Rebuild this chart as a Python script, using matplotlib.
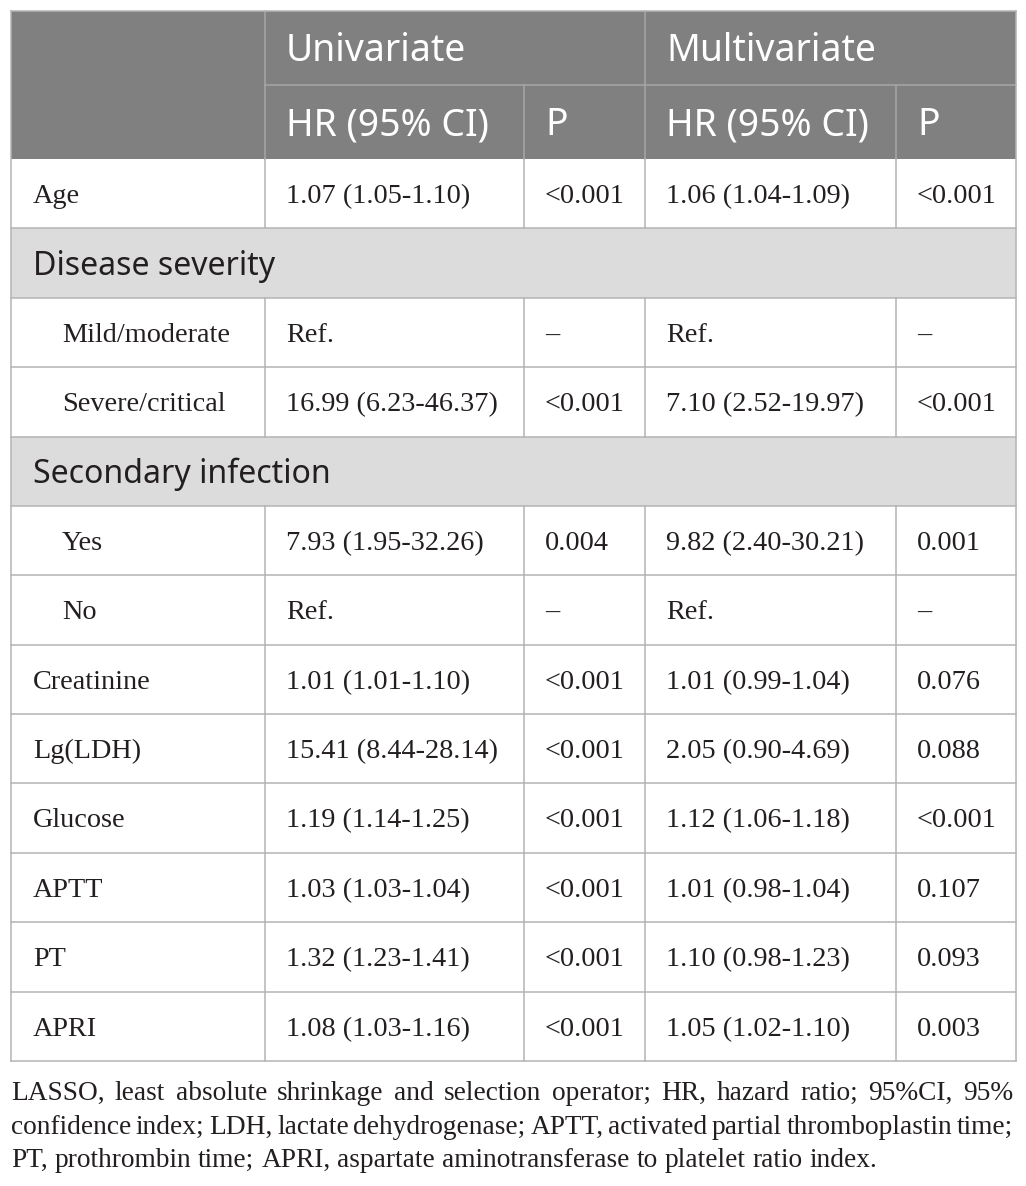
import matplotlib
matplotlib.use("Agg")
import matplotlib.pyplot as plt
from matplotlib.patches import Rectangle

# ---- table content ----
group_headers = ["Univariate", "Multivariate"]
sub_headers = ["HR (95% CI)", "P", "HR (95% CI)", "P"]

row_labels = ["Age", "Disease severity", "Mild/moderate", "Severe/critical",
              "Secondary infection", "Yes", "No", "Creatinine", "Lg(LDH)",
              "Glucose", "APTT", "PT", "APRI"]
section_rows = ["Disease severity", "Secondary infection"]
indented_rows = ["Mild/moderate", "Severe/critical", "Yes", "No"]

uni_hr = ["1.07 (1.05-1.10)", None, "Ref.", "16.99 (6.23-46.37)", None,
          "7.93 (1.95-32.26)", "Ref.", "1.01 (1.01-1.10)", "15.41 (8.44-28.14)",
          "1.19 (1.14-1.25)", "1.03 (1.03-1.04)", "1.32 (1.23-1.41)", "1.08 (1.03-1.16)"]
uni_p = ["<0.001", None, "\u2013", "<0.001", None, "0.004", "\u2013",
         "<0.001", "<0.001", "<0.001", "<0.001", "<0.001", "<0.001"]
multi_hr = ["1.06 (1.04-1.09)", None, "Ref.", "7.10 (2.52-19.97)", None,
            "9.82 (2.40-30.21)", "Ref.", "1.01 (0.99-1.04)", "2.05 (0.90-4.69)",
            "1.12 (1.06-1.18)", "1.01 (0.98-1.04)", "1.10 (0.98-1.23)", "1.05 (1.02-1.10)"]
multi_p = ["<0.001", None, "\u2013", "<0.001", None, "0.001", "\u2013",
           "0.076", "0.088", "<0.001", "0.107", "0.093", "0.003"]

footnote_lines = [
    "LASSO, least absolute shrinkage and selection operator; HR, hazard ratio; 95%CI, 95%",
    "confidence index; LDH, lactate dehydrogenase; APTT, activated partial thromboplastin time;",
    "PT, prothrombin time; APRI, aspartate aminotransferase to platelet ratio index.",
]

# ---- layout (pixels) ----
W, H = 1026, 1186
col_x = [11, 265, 524, 645, 896, 1016]
top, head_mid, head_bot, tab_bot = 11, 85, 159, 1061
pad = 21
head_bg = "#808080"
sect_bg = "#dcdcdc"
grid_c = "#b4b4b4"
head_line = "#a6a6a6"
text_c = "#231f20"
serif = ["Liberation Serif", "DejaVu Serif"]
sans = ["Noto Sans", "DejaVu Sans"]
lw = 1.1

fig = plt.figure(figsize=(W / 100, H / 100), dpi=100)
ax = fig.add_axes([0, 0, 1, 1])
ax.set_xlim(0, W)
ax.set_ylim(H, 0)
ax.axis("off")
renderer = fig.canvas.get_renderer()


def width_px(s, family, size):
    t = ax.text(0, 0, s, family=family, fontsize=size)
    w = t.get_window_extent(renderer).width
    t.remove()
    return w


def fit_size(s, family, target):
    return 20 * target / width_px(s, family, 20)


body_fs = fit_size("16.99 (6.23-46.37)", serif, 212)
head_fs = fit_size("HR (95% CI)", sans, 203)
sect_fs = fit_size("Disease severity", sans, 242)
foot_fs = fit_size(footnote_lines[2], serif, 866)


def put(x, yc, s, family, size, color, capfrac):
    # baseline placed so that capitals sit centred on yc
    ax.text(x, yc + capfrac * size * 100 / 72 / 2, s, family=family,
            fontsize=size, color=color, ha="left", va="baseline")


# header background
ax.add_patch(Rectangle((col_x[0], top), col_x[-1] - col_x[0], head_bot - top,
                       facecolor=head_bg, edgecolor="none"))
ax.plot([col_x[1], col_x[-1]], [head_mid, head_mid], color=head_line, lw=lw)
for x in (col_x[1], col_x[3]):
    ax.plot([x, x], [top, head_bot], color=head_line, lw=lw)
for x in (col_x[2], col_x[4]):
    ax.plot([x, x], [head_mid, head_bot], color=head_line, lw=lw)

for i, g in enumerate(group_headers):
    put(col_x[1 + 2 * i] + pad, (top + head_mid) / 2, g, sans, head_fs, "white", 0.714)
for i, s in enumerate(sub_headers):
    put(col_x[1 + i] + pad, (head_mid + head_bot) / 2, s, sans, head_fs, "white", 0.714)

# body rows
n = len(row_labels)
rh = (tab_bot - head_bot) / n
for r, lab in enumerate(row_labels):
    y0 = head_bot + r * rh
    yc = y0 + rh / 2
    if lab in section_rows:
        ax.add_patch(Rectangle((col_x[0], y0), col_x[-1] - col_x[0], rh,
                               facecolor=sect_bg, edgecolor="none"))
        put(col_x[0] + 22, yc, lab, sans, sect_fs, text_c, 0.714)
    else:
        for x in col_x[1:-1]:
            ax.plot([x, x], [y0, y0 + rh], color=grid_c, lw=lw)
        lx = col_x[0] + (51 if lab in indented_rows else 22)
        put(lx, yc, lab, serif, body_fs, text_c, 0.66)
        for c, vals in enumerate([uni_hr, uni_p, multi_hr, multi_p]):
            put(col_x[1 + c] + pad, yc, vals[r], serif, body_fs, text_c, 0.66)
    ax.plot([col_x[0], col_x[-1]], [y0 + rh, y0 + rh], color=grid_c, lw=lw)

# outer border of body
ax.plot([col_x[0], col_x[0]], [top, tab_bot], color=grid_c, lw=lw)
ax.plot([col_x[-1], col_x[-1]], [top, tab_bot], color=grid_c, lw=lw)
ax.plot([col_x[0], col_x[-1]], [top, top], color=grid_c, lw=lw)

# footnote, first two lines justified
foot_base = [1100, 1133.5, 1167]
left, right = 11, 1013
space_w = width_px("a b", serif, foot_fs) - width_px("ab", serif, foot_fs)
for i, line in enumerate(footnote_lines):
    words = line.split(" ")
    ws = [width_px(w, serif, foot_fs) for w in words]
    if i < len(footnote_lines) - 1:
        gap = (right - left - sum(ws)) / (len(words) - 1)
    else:
        gap = space_w
    x = left
    for w, wd in zip(words, ws):
        ax.text(x, foot_base[i], w, family=serif, fontsize=foot_fs,
                color=text_c, ha="left", va="baseline")
        x += wd + gap

fig.savefig("out.png", dpi=100, facecolor="white")
